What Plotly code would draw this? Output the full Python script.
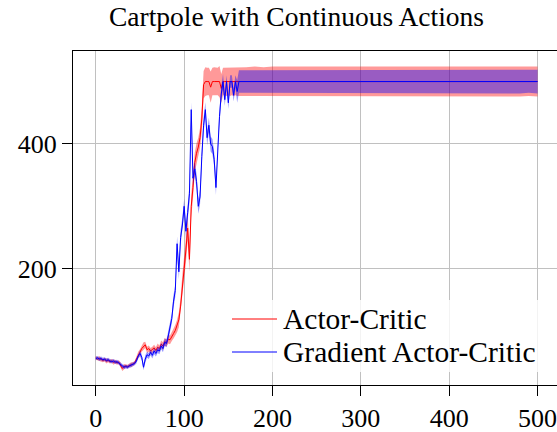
import plotly.graph_objects as go

# ---------------- data ----------------
ep_early = list(range(0, 166, 2))          # 0..164
ep_late = list(range(170, 501, 10))        # 170..500

ac_mean_early = [
    57, 55, 56, 54, 53, 54, 52, 53, 51, 52,
    50, 51, 49, 50, 46, 40, 43, 44, 43, 45,
    46, 47, 49, 55, 62, 66, 72, 76, 78, 70,
    72, 68, 70, 73, 69, 74, 72, 79, 76, 83,
    81, 87, 86, 92, 96, 101, 108, 118, 140, 175,
    200, 230, 265, 215, 300, 330, 370, 385, 395, 410,
    440, 495, 500, 500, 500, 491, 500, 500, 500, 500,
    500, 489, 500, 500, 500, 500, 500, 500, 500, 500,
    500, 500, 500,
]
gac_mean_early = [
    56, 57, 55, 56, 54, 55, 53, 54, 52, 51,
    52, 50, 51, 49, 47, 44, 42, 43, 42, 44,
    45, 46, 48, 52, 60, 64, 58, 42, 55, 62,
    60, 66, 61, 68, 64, 70, 68, 76, 72, 82,
    80, 92, 105, 120, 148, 165, 240, 195, 250, 270,
    300, 260, 290, 320, 455, 345, 360, 340, 300, 315,
    380, 430, 455, 410, 430, 400, 396, 375, 330, 400,
    444, 480, 500, 471, 500, 466, 500, 500, 478, 500,
    484, 500, 500,
]
ac_std_early = [
    3, 3, 4, 3, 3, 3, 4, 3, 3, 3, 4, 3, 3, 3, 4, 4, 4, 3, 3, 3, 4, 3, 3,
    4, 5, 5, 5, 6, 5, 5, 5, 5, 5, 5, 5, 6, 5, 6, 6, 6, 6, 7, 7, 8, 8,
    9, 10, 12, 14, 16, 18, 20, 20, 20, 18, 18, 16, 16, 15, 16, 20,
    22, 23, 22, 22, 25, 22, 23, 22, 22, 25, 23, 22, 22, 23, 22, 23, 22, 23, 22, 23, 23, 23,
]
gac_std_early = [
    3, 3, 3, 3, 3, 3, 3, 3, 3, 3, 3, 3, 3, 3, 3, 3, 3, 3, 3, 3, 3, 3, 3,
    4, 4, 5, 5, 5, 6, 5, 5, 5, 5, 5, 5, 5, 5, 5, 6, 6, 6, 7, 8, 8, 10,
    10, 12, 12, 12, 12, 12, 12, 12, 14, 12, 12, 12, 12, 12, 12, 12,
    12, 12, 12, 12, 12, 12, 12, 12, 12, 12, 12, 12, 10, 10, 10, 10, 10, 10, 10, 18, 18, 18,
]

ac_mean_late = [500] * len(ep_late)
gac_mean_late = [500] * len(ep_late)
ac_std_late = [23, 24, 23, 24, 24, 23, 24, 24, 23, 24, 24, 23, 24, 23, 24, 24, 23,
               24, 24, 23, 24, 24, 23, 24, 24, 23, 24, 24, 24, 23, 24, 24, 23, 24]
gac_std_late = [18, 19, 18, 19, 19, 18, 19, 18, 19, 19, 18, 19, 19, 18, 19, 18, 19,
                19, 18, 19, 18, 19, 19, 18, 19, 19, 18, 19, 19, 18, 19, 19, 18, 19]

series_names = ["Actor-Critic", "Gradient Actor-Critic"]
series_colors = ["#ff0000", "#0000ff"]
x_ticks = [0, 100, 200, 300, 400, 500]
y_ticks = [200, 400]

episodes = ep_early + ep_late
ac_mean = ac_mean_early + ac_mean_late
gac_mean = gac_mean_early + gac_mean_late
ac_std = ac_std_early + ac_std_late
gac_std = gac_std_early + gac_std_late

# ---------------- figure ----------------
FONT = "Liberation Serif"
fig = go.Figure()


def band(x, m, s, color):
    up = [a + b for a, b in zip(m, s)]
    lo = [a - b for a, b in zip(m, s)]
    return go.Scatter(x=x + x[::-1], y=up + lo[::-1], fill="toself",
                      fillcolor=color, line=dict(width=0), mode="lines",
                      hoverinfo="skip", showlegend=False)


fig.add_trace(band(episodes, ac_mean, ac_std, "rgba(255,0,0,0.4)"))
fig.add_trace(go.Scatter(x=episodes, y=ac_mean, mode="lines", name=series_names[0],
                         line=dict(color=series_colors[0], width=1), showlegend=False))
fig.add_trace(band(episodes, gac_mean, gac_std, "rgba(0,0,255,0.4)"))
fig.add_trace(go.Scatter(x=episodes, y=gac_mean, mode="lines", name=series_names[1],
                         line=dict(color=series_colors[1], width=1), showlegend=False))

W, H = 557, 432
L, R, T, B = 73, 0, 51, 47
pw, ph = W - L - R, H - T - B


def px2x(px):
    return (px - L) / pw


def py2y(py):
    return (H - B - py) / ph


# legend box, drawn in paper coordinates
shapes = [dict(type="rect", xref="paper", yref="paper", layer="above",
               x0=px2x(225), x1=px2x(546), y0=py2y(372), y1=py2y(300),
               fillcolor="rgba(255,255,255,0.8)", line=dict(width=0))]
annotations = []
for i, (nm, col) in enumerate(zip(series_names, series_colors)):
    yy = py2y(319 + 33 * i)
    shapes.append(dict(type="line", xref="paper", yref="paper", layer="above",
                       x0=px2x(232), x1=px2x(277), y0=yy, y1=yy,
                       line=dict(color=col, width=1)))
    annotations.append(dict(text=nm, xref="paper", yref="paper", x=px2x(281), y=yy,
                            xanchor="left", yanchor="middle", showarrow=False,
                            font=dict(family=FONT, size=29.5, color="black")))

fig.update_layout(
    width=W, height=H,
    margin=dict(l=L, r=R, t=T, b=B, autoexpand=False),
    paper_bgcolor="white", plot_bgcolor="white",
    font=dict(family=FONT, size=26, color="black"),
    title=dict(text="Cartpole with Continuous Actions", x=296.5 / W, xanchor="center",
               y=1 - 16 / H, yanchor="middle", yref="container", automargin=False,
               font=dict(family=FONT, size=27.5, color="black")),
    showlegend=False,
    shapes=shapes,
    annotations=annotations,
)
fig.update_xaxes(range=[-25.8, 522], tickvals=x_ticks, ticks="outside", ticklen=10,
                 tickcolor="black", showline=True, linecolor="black", linewidth=1,
                 mirror=True, showgrid=True, gridcolor="#c0c0c0", gridwidth=1,
                 zeroline=False, automargin=False, ticklabeloverflow="allow",
                 tickfont=dict(family=FONT, size=26))
fig.update_yaxes(range=[13.5, 549], tickvals=y_ticks, ticks="outside", ticklen=10,
                 tickcolor="black", showline=True, linecolor="black", linewidth=1,
                 mirror=False, showgrid=True, gridcolor="#c0c0c0", gridwidth=1,
                 zeroline=False, automargin=False, ticklabeloverflow="allow",
                 tickfont=dict(family=FONT, size=26))

fig.write_html("out.html", config={"displayModeBar": False},
               post_script="document.body.style.margin='0';")
